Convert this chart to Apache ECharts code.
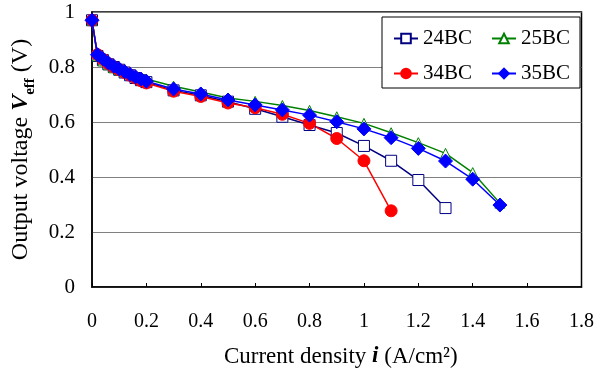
<!DOCTYPE html>
<html>
<head>
<meta charset="utf-8">
<script src="https://cdn.jsdelivr.net/npm/echarts@6/dist/echarts.min.js"></script>
<style>
  html, body { margin: 0; padding: 0; background: #fff; }
  #chart { width: 597px; height: 381px; }
</style>
</head>
<body>
<div id="chart"></div>
<script>
// current density (A/cm2)
const currentDensity = [0, 0.02, 0.04, 0.06, 0.08, 0.1, 0.12, 0.14, 0.16, 0.18, 0.2,
  0.3, 0.4, 0.5, 0.6, 0.7, 0.8, 0.9, 1.0, 1.1, 1.2, 1.3, 1.4, 1.5];

// output voltage (V)
const v24BC = [0.97, 0.84, 0.825, 0.81, 0.8, 0.79, 0.78, 0.77, 0.76, 0.752, 0.745,
  0.715, 0.697, 0.674, 0.648, 0.619, 0.589, 0.56, 0.513, 0.459, 0.389, 0.287];
const v25BC = [0.97, 0.84, 0.822, 0.808, 0.797, 0.79, 0.782, 0.775, 0.768, 0.762, 0.756,
  0.73, 0.709, 0.687, 0.675, 0.66, 0.642, 0.619, 0.595, 0.561, 0.525, 0.486, 0.416, 0.305];
const v34BC = [0.97, 0.845, 0.828, 0.812, 0.8, 0.79, 0.78, 0.77, 0.76, 0.75, 0.742,
  0.712, 0.693, 0.669, 0.652, 0.628, 0.595, 0.54, 0.459, 0.277];
const v35BC = [0.97, 0.845, 0.83, 0.815, 0.803, 0.793, 0.783, 0.773, 0.764, 0.756, 0.748,
  0.72, 0.702, 0.68, 0.662, 0.644, 0.625, 0.601, 0.575, 0.543, 0.504, 0.458, 0.392, 0.298];

const serif = '"Liberation Serif", "Times New Roman", serif';

function pairs(ys) {
  return ys.map((y, i) => [currentDensity[i], y]);
}

function lineSeries(name, ys, color, symbol, size, fill) {
  return {
    name: name,
    type: 'line',
    data: pairs(ys),
    symbol: symbol,
    symbolSize: size,
    showAllSymbol: true,
    lineStyle: { color: color, width: 1.5 },
    itemStyle: { color: fill, borderColor: color, borderWidth: 1 },
    emphasis: { disabled: true }
  };
}

const chart = echarts.init(document.getElementById('chart'));
chart.setOption({
  animation: false,
  textStyle: { fontFamily: serif },
  grid: {
    left: 92, top: 12, right: 14, bottom: 94,
    show: true, borderColor: '#000', borderWidth: 1.5
  },
  legend: {
    left: 382, top: 17,
    width: 190,
    padding: [9, 1, 2, 11],
    itemWidth: 24, itemHeight: 12, itemGap: 10,
    backgroundColor: '#fff',
    borderColor: '#000', borderWidth: 1,
    textStyle: { fontFamily: serif, fontSize: 21, color: '#000', width: 58, lineHeight: 25 },
    data: ['24BC', '25BC', '34BC', '35BC']
  },
  xAxis: {
    type: 'value',
    min: 0, max: 1.8, interval: 0.2,
    name: 'Current density {b|i} (A/cm²)',
    nameLocation: 'middle',
    nameGap: 58,
    nameTextStyle: {
      fontFamily: serif, fontSize: 23, color: '#000', padding: [0, 0, 0, 8],
      rich: { b: { fontFamily: serif, fontSize: 23, fontWeight: 'bold', fontStyle: 'italic' } }
    },
    axisLine: { show: true, lineStyle: { color: '#000', width: 1.5 } },
    axisTick: { show: true, inside: true, length: 4, lineStyle: { color: '#000' } },
    axisLabel: { fontFamily: serif, fontSize: 20, color: '#000', margin: 25 },
    splitLine: { show: false }
  },
  yAxis: {
    type: 'value',
    min: 0, max: 1, interval: 0.2,
    name: '{a|Output voltage }{b|V}{c|eff}{a| (V)}',
    nameLocation: 'middle',
    nameGap: 58,
    nameRotate: 90,
    nameTextStyle: {
      fontFamily: serif, fontSize: 24, color: '#000',
      rich: {
        a: { fontFamily: serif, fontSize: 24, lineHeight: 26, verticalAlign: 'bottom' },
        b: { fontFamily: serif, fontSize: 24, lineHeight: 26, fontWeight: 'bold', fontStyle: 'italic', verticalAlign: 'bottom' },
        c: { fontFamily: serif, fontSize: 15, lineHeight: 26, fontWeight: 'bold', verticalAlign: 'bottom', padding: [0, 0, -5, 0] }
      }
    },
    axisLine: { show: true, lineStyle: { color: '#000', width: 1.5 } },
    axisTick: { show: false },
    axisLabel: { fontFamily: serif, fontSize: 21, color: '#000', margin: 17 },
    splitLine: { show: true, lineStyle: { color: '#808080', width: 1 } }
  },
  series: [
    lineSeries('24BC', v24BC, '#000080', 'rect', 11, '#fff'),
    lineSeries('25BC', v25BC, '#008000', 'triangle', 10, '#fff'),
    lineSeries('34BC', v34BC, '#ff0000', 'circle', 12, '#ff0000'),
    lineSeries('35BC', v35BC, '#0000ff', 'diamond', 14, '#0000ff')
  ]
});
</script>
</body>
</html>
